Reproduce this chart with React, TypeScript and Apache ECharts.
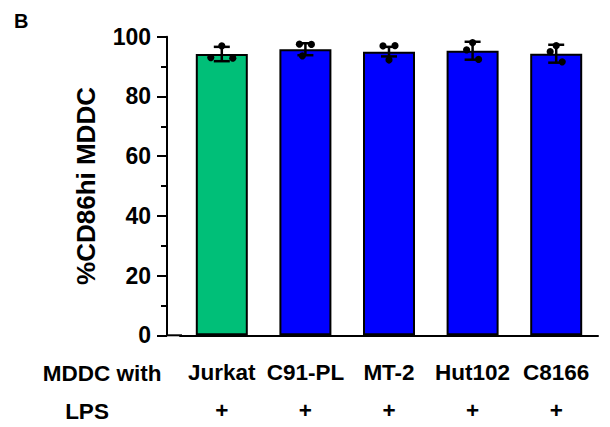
import React, { useEffect, useRef } from "react";
import * as echarts from "echarts";

const CATEGORIES = ["Jurkat", "C91-PL", "MT-2", "Hut102", "C8166"];
const LPS = ["+", "+", "+", "+", "+"];
const ROW_LABELS = ["MDDC with", "LPS"];
const MEANS = [94.2, 95.8, 95.0, 95.3, 94.3];
const SDS = [2.4, 2.0, 1.6, 3.0, 3.0];
const REPLICATES = [
  [96.9, 93.0, 92.8],
  [97.5, 97.4, 93.6],
  [96.9, 97.0, 92.2],
  [98.0, 95.6, 92.4],
  [97.0, 95.0, 91.6],
];
const JITTER = [
  [0, -11, 11],
  [-6, 6, -3],
  [-6, 6, 0],
  [0, -6, 6],
  [0, -6, 6],
];
const BAR_COLORS = ["#00BF78", "#0000FF", "#0000FF", "#0000FF", "#0000FF"];
const Y_TITLE = "%CD86hi MDDC";
const PANEL = "B";

const FONT = "'Liberation Sans', Arial, sans-serif";

export default function App() {
  const ref = useRef<HTMLDivElement>(null);
  useEffect(() => {
    if (!ref.current) return;
    const chart = echarts.init(ref.current, null, { renderer: "svg" });
    const errData = MEANS.map((m, i) => [i, m - SDS[i], m + SDS[i]]);
    const ptData: number[][] = [];
    REPLICATES.forEach((arr, i) => arr.forEach((v, j) => ptData.push([i, v, JITTER[i][j]])));
    chart.setOption({
      animation: false,
      textStyle: { fontFamily: FONT },
      grid: { left: 180, right: 12, top: 36.7, bottom: 91.7 },
      xAxis: {
        type: "category",
        data: CATEGORIES,
        axisLine: { lineStyle: { color: "#000", width: 2 } },
        axisTick: { alignWithLabel: true, length: 16, lineStyle: { color: "#000", width: 2 } },
        axisLabel: {
          margin: 18,
          interval: 0,
          formatter: (v: string, i: number) => `{c|${v}}\n{p|${LPS[i]}}`,
          rich: {
            c: { fontSize: 22.5, fontWeight: "bold", color: "#000", lineHeight: 38, fontFamily: FONT },
            p: { fontSize: 22.5, fontWeight: "bold", color: "#000", lineHeight: 38, fontFamily: FONT },
          },
        },
      },
      yAxis: {
        type: "value",
        min: 0,
        max: 100,
        interval: 20,
        offset: 13,
        name: Y_TITLE,
        nameLocation: "middle",
        nameRotate: 90,
        nameGap: 68,
        nameTextStyle: { fontSize: 26, fontWeight: "bold", color: "#000", fontFamily: FONT },
        axisLine: { show: true, lineStyle: { color: "#000", width: 2 } },
        axisTick: { show: true, length: 10, lineStyle: { color: "#000", width: 2 } },
        minorTick: { show: true, splitNumber: 2, length: 6, lineStyle: { color: "#000", width: 2 } },
        splitLine: { show: false },
        axisLabel: { fontSize: 23, fontWeight: "bold", color: "#000", margin: 16, fontFamily: FONT },
      },
      graphic: [
        { type: "line", shape: { x1: 166, y1: 335.3, x2: 182, y2: 335.3 }, style: { stroke: "#000", lineWidth: 2 } },
        { type: "text", left: 14, top: 11, style: { text: PANEL, font: `bold 20px ${FONT}`, fill: "#000" } },
        { type: "text", x: 102, y: 373, style: { text: ROW_LABELS[0], font: `bold 22.5px ${FONT}`, fill: "#000", align: "center", verticalAlign: "middle" } },
        { type: "text", x: 87, y: 411, style: { text: ROW_LABELS[1], font: `bold 22.5px ${FONT}`, fill: "#000", align: "center", verticalAlign: "middle" } },
      ],
      series: [
        {
          type: "bar",
          data: MEANS.map((v, i) => ({ value: v, itemStyle: { color: BAR_COLORS[i] } })),
          barWidth: 52,
          itemStyle: { borderColor: "#000", borderWidth: 2 },
        },
        {
          type: "custom",
          data: errData,
          z: 5,
          renderItem: (params: any, api: any) => {
            const lo = api.coord([api.value(0), api.value(1)]);
            const hi = api.coord([api.value(0), api.value(2)]);
            const w = 8;
            const st = { stroke: "#000", lineWidth: 2.5 };
            return {
              type: "group",
              children: [
                { type: "line", shape: { x1: hi[0], y1: hi[1], x2: lo[0], y2: lo[1] }, style: st },
                { type: "line", shape: { x1: hi[0] - w, y1: hi[1], x2: hi[0] + w, y2: hi[1] }, style: st },
                { type: "line", shape: { x1: lo[0] - w, y1: lo[1], x2: lo[0] + w, y2: lo[1] }, style: st },
              ],
            };
          },
        },
        {
          type: "custom",
          data: ptData,
          z: 6,
          renderItem: (params: any, api: any) => {
            const p = api.coord([api.value(0), api.value(1)]);
            return { type: "circle", shape: { cx: p[0] + api.value(2), cy: p[1], r: 3.6 }, style: { fill: "#000" } };
          },
        },
      ],
    });
    return () => chart.dispose();
  }, []);
  return <div ref={ref} style={{ width: 610, height: 427, position: "absolute", left: 0, top: 0 }} />;
}
